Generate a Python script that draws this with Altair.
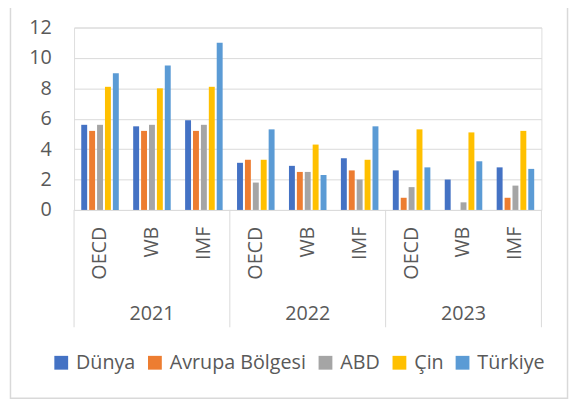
import altair as alt
import pandas as pd

years = ["2021", "2022", "2023"]
sources = ["OECD", "WB", "IMF"]
series = ["Dünya", "Avrupa Bölgesi", "ABD", "Çin", "Türkiye"]
colors = ["#4472C4", "#ED7D31", "#A5A5A5", "#FFC000", "#5B9BD5"]

# order: 2021 OECD, WB, IMF, 2022 OECD, WB, IMF, 2023 OECD, WB, IMF
dunya = [5.6, 5.5, 5.9, 3.1, 2.9, 3.4, 2.6, 2.0, 2.8]
avrupa = [5.2, 5.2, 5.2, 3.3, 2.5, 2.6, 0.8, None, 0.8]
abd = [5.6, 5.6, 5.6, 1.8, 2.5, 2.0, 1.5, 0.5, 1.6]
cin = [8.1, 8.0, 8.1, 3.3, 4.3, 3.3, 5.3, 5.1, 5.2]
turkiye = [9.0, 9.5, 11.0, 5.3, 2.3, 5.5, 2.8, 3.2, 2.7]

values = [dunya, avrupa, abd, cin, turkiye]
keys = [f"{y}|{s}" for y in years for s in sources]

rows = []
for name, vals in zip(series, values):
    for k, v in zip(keys, vals):
        rows.append({"key": k, "series": name, "value": v})
df = pd.DataFrame(rows)

labels_df = pd.DataFrame({"key": keys, "source": [k.split("|")[1] for k in keys]})
years_df = pd.DataFrame({"key": [f"{y}|WB" for y in years], "year": years})
sep_left_df = pd.DataFrame({"key": [f"{y}|OECD" for y in years]})
sep_right_df = pd.DataFrame({"key": [keys[-1]]})
frame_df = pd.DataFrame({"a": [0]})

FONT = "Open Sans"
TXT = "#595959"
GRID = "#d9d9d9"

xscale = alt.Scale(domain=keys, paddingInner=0, paddingOuter=0)

bars = alt.Chart(df).mark_bar().encode(
    x=alt.X("key:N", scale=xscale,
            axis=alt.Axis(labels=False, ticks=False, title=None, grid=False,
                          domainColor=GRID, domainWidth=1)),
    xOffset=alt.XOffset("series:N", scale=alt.Scale(domain=series, paddingInner=0.25, paddingOuter=0.91)),
    y=alt.Y("value:Q", scale=alt.Scale(domain=[0, 12]),
            axis=alt.Axis(values=[0, 2, 4, 6, 8, 10, 12], title=None, domain=False, ticks=False,
                          tickSize=0, labelPadding=23, labelFontSize=20, labelColor=TXT,
                          labelFont=FONT, gridColor=GRID, gridWidth=1)),
    color=alt.Color("series:N", scale=alt.Scale(domain=series, range=colors),
                    legend=alt.Legend(orient="none", legendX=-23, legendY=330, direction="horizontal",
                                      columns=5, title=None, symbolType="square", symbolSize=196,
                                      symbolStrokeWidth=0, labelFontSize=20, labelFont=FONT,
                                      labelColor=TXT, labelOffset=5, columnPadding=9)),
)

sep_left = alt.Chart(sep_left_df).mark_rule(color=GRID, strokeWidth=1).encode(
    x=alt.X("key:N", scale=xscale, bandPosition=0, axis=None),
    y=alt.value(185), y2=alt.value(304),
)
sep_right = alt.Chart(sep_right_df).mark_rule(color=GRID, strokeWidth=1).encode(
    x=alt.X("key:N", scale=xscale, bandPosition=1, axis=None),
    y=alt.value(185), y2=alt.value(304),
)

src_text = alt.Chart(labels_df).mark_text(angle=270, align="right", baseline="middle",
                                          fontSize=20, font=FONT, color=TXT).encode(
    x=alt.X("key:N", scale=xscale, axis=None),
    y=alt.value(202),
    text="source:N",
)

year_text = alt.Chart(years_df).mark_text(align="center", baseline="alphabetic",
                                          fontSize=20, font=FONT, color=TXT).encode(
    x=alt.X("key:N", scale=xscale, axis=None),
    y=alt.value(297),
    text="year:N",
)

frame = alt.Chart(frame_df).mark_rect(fillOpacity=0, stroke=GRID, strokeWidth=1.5).encode(
    x=alt.value(-64.5), x2=alt.value(500.5), y=alt.value(-40), y2=alt.value(376),
)

chart = alt.layer(frame, bars, sep_left, sep_right, src_text, year_text).properties(
    width=474, height=185,
    padding={"left": 67, "top": 17, "right": 29, "bottom": 192},
    autosize=alt.AutoSizeParams(type="none"),
).configure_view(stroke=None).configure(font=FONT)

chart.save("out.html", embed_options={"renderer": "svg", "actions": False})
